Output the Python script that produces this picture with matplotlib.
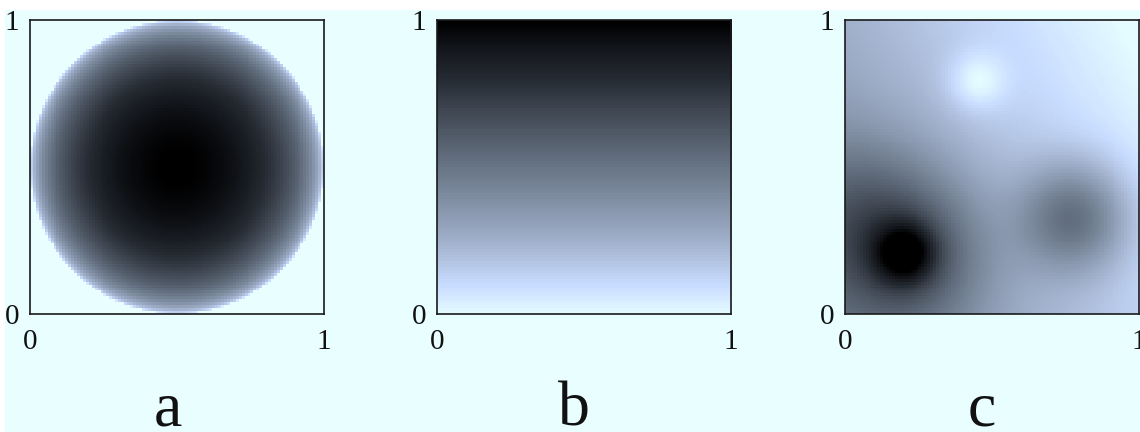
import numpy as np
import matplotlib.pyplot as plt
from matplotlib.colors import LinearSegmentedColormap
from matplotlib.patches import Rectangle

plt.rcParams['font.family'] = ['Liberation Serif', 'DejaVu Serif']

bg_color = '#e9ffff'

# shading from low (dark) to high (light)
shade_stops = [0.0, 0.1, 0.2, 0.3, 0.4, 0.5, 0.6, 0.7, 0.8, 0.9, 1.0]
shade_colors = ['#000000', '#14171c', '#262b33', '#3e4550', '#535d6b',
                '#687586', '#7e8ca0', '#95a4bc', '#adbedb', '#c8dcff', '#e4fbff']

panel_labels = ['a', 'b', 'c']
label_x = [0.147, 0.5035, 0.861]
tick_values = [0, 1]

# a: hemisphere standing on a disc
disc_center = (0.5, 0.5)
disc_radius = 0.5

# c: tilted plane plus a few gaussian bumps
plane_coef = [0.60, 0.27, 0.15]      # offset, x slope, y slope
bump_x = [0.205, 0.205, 0.78, 0.45, 0.02]
bump_y = [0.207, 0.207, 0.33, 0.79, 0.38]
bump_amp = [-0.42, -0.38, -0.38, 0.16, -0.15]
bump_width = [0.07, 0.19, 0.13, 0.07, 0.18]

grid_n = 100

cmap = LinearSegmentedColormap.from_list('shade', list(zip(shade_stops, shade_colors)))

g = (np.arange(grid_n) + 0.5) / grid_n
X, Y = np.meshgrid(g, g)

# panel a
r = np.hypot(X - disc_center[0], Y - disc_center[1])
rn = np.clip(r / disc_radius, 0, 1)
field_a = np.ma.masked_where(r > disc_radius, 1 - np.sqrt(1 - rn**2))

# panel b
field_b = 1 - Y

# panel c
field_c = plane_coef[0] + plane_coef[1] * X + plane_coef[2] * Y
for bx, by, ba, bw in zip(bump_x, bump_y, bump_amp, bump_width):
    field_c = field_c + ba * np.exp(-((X - bx)**2 + (Y - by)**2) / (2 * bw**2))

fig = plt.figure(figsize=(11.4, 4.32), dpi=100, facecolor='white')
fig.patches.append(Rectangle((5 / 1140, 0), 1, 1 - 10 / 432, transform=fig.transFigure,
                             facecolor=bg_color, edgecolor='none', zorder=-1))

lefts = [30 / 1140, 437 / 1140, 845 / 1140]
w, h = 294 / 1140, 294 / 432
bottom = 1 - 314 / 432

for left, field, lab, lx in zip(lefts, [field_a, field_b, field_c], panel_labels, label_x):
    ax = fig.add_axes([left, bottom, w, h])
    ax.set_facecolor(bg_color)
    ax.imshow(field, cmap=cmap, vmin=0, vmax=1, origin='lower', extent=[0, 1, 0, 1],
              interpolation='nearest', aspect='auto')
    ax.set_xlim(0, 1)
    ax.set_ylim(0, 1)
    ax.set_xticks(tick_values)
    ax.set_yticks(tick_values)
    ax.set_xticklabels([str(t) for t in tick_values])
    ax.set_yticklabels([str(t) for t in tick_values])
    ax.tick_params(length=0, labelsize=21, colors='#111111')
    ax.tick_params(axis='x', pad=11)
    ax.tick_params(axis='y', pad=8)
    for s in ax.spines.values():
        s.set_linewidth(1.2)
        s.set_color('#1a1a1a')
    fig.text(lx, 1 - 425 / 432, lab, fontsize=46, ha='center', va='baseline', color='#111111')

fig.savefig('out.png', dpi=100, facecolor=fig.get_facecolor())
